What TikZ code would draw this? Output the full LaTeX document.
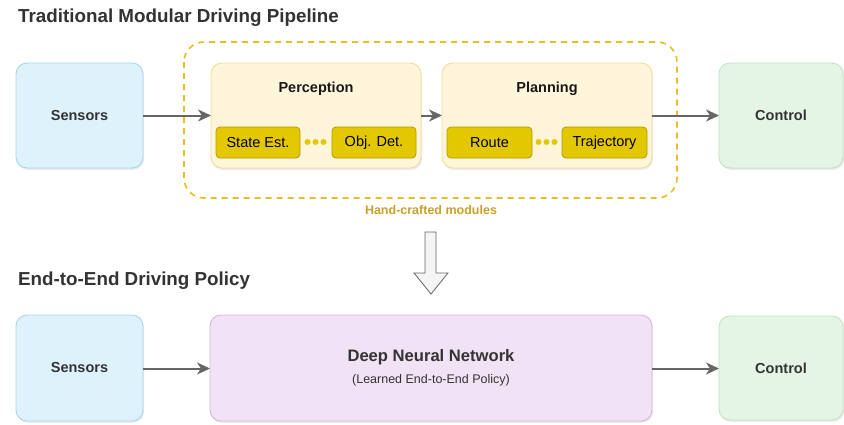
\documentclass[tikz,border=0pt]{standalone}
\usepackage{fontspec}
\setmainfont{Liberation Sans}
\usetikzlibrary{arrows.meta,shadows}

\definecolor{sensfill}{HTML}{DEF2FB}
\definecolor{sensdraw}{HTML}{A9D6EA}
\definecolor{ctrlfill}{HTML}{E5F5E5}
\definecolor{ctrldraw}{HTML}{C3E2C3}
\definecolor{modfill}{HTML}{FFF5DA}
\definecolor{moddraw}{HTML}{F2DC98}
\definecolor{subfill}{HTML}{E3C800}
\definecolor{subdraw}{HTML}{B59B00}
\definecolor{groupdraw}{HTML}{E8BE22}
\definecolor{grouptext}{HTML}{C9A02A}
\definecolor{dnnfill}{HTML}{F2E2F5}
\definecolor{dnndraw}{HTML}{D9B6DE}
\definecolor{linkgray}{HTML}{666666}
\definecolor{textdark}{HTML}{333333}
\definecolor{bigarrowfill}{HTML}{F5F5F5}

\tikzset{
  box/.style={draw, rounded corners=11pt, line width=0.9pt, inner sep=0pt,
    drop shadow={shadow xshift=1pt, shadow yshift=-1.8pt, opacity=0.16}},
  sensbox/.style={box, fill=sensfill, draw=sensdraw},
  ctrlbox/.style={box, fill=ctrlfill, draw=ctrldraw},
  modbox/.style={box, fill=modfill, draw=moddraw},
  dnnbox/.style={box, fill=dnnfill, draw=dnndraw},
  subbox/.style={draw=subdraw, fill=subfill, rounded corners=4pt, line width=0.8pt},
  boxlabel/.style={font=\fontsize{14.5}{17}\selectfont\bfseries, text=textdark},
  sublabel/.style={font=\fontsize{14.5}{17}\selectfont, text=black},
  heading/.style={font=\fontsize{18.8}{22}\selectfont\bfseries, text=textdark, anchor=base west, inner sep=0pt},
  link/.style={color=linkgray, line width=2pt, -{Stealth[length=13pt,width=12pt,inset=4pt]}},
  dot/.style={circle, fill=subfill, draw=none, minimum size=6pt, inner sep=0pt},
}

\begin{document}
\begin{tikzpicture}[x=1pt, y=-1pt]
\useasboundingbox[fill=white] (0,0) rectangle (844,424);

% headings
\node[heading] (h1) at (18,22) {Traditional Modular Driving Pipeline};
\node[heading] (h2) at (18,285) {End-to-End Driving Policy};

% group of hand-crafted modules
\draw[groupdraw, line width=1.6pt, dash pattern=on 6pt off 5pt, rounded corners=20pt]
  (184,42) rectangle (677,198);
\node[font=\fontsize{12.5}{15}\selectfont\bfseries, text=grouptext] (grp) at (431,210) {Hand-crafted modules};

% top row
\path[sensbox] (16,63) rectangle (143,168);
\node[boxlabel] (s1) at (79.5,115.5) {Sensors};
\coordinate (s1e) at (143,115.5);

\path[modbox] (211,63) rectangle (421,168);
\node[font=\fontsize{14.5}{17}\selectfont\bfseries, text=black!90] (per) at (316,89) {Perception};
\coordinate (perw) at (211,115.5);
\coordinate (pere) at (421,115.5);

\path[modbox] (442,63) rectangle (652,168);
\node[font=\fontsize{14.5}{17}\selectfont\bfseries, text=black!90] (pla) at (547,89) {Planning};
\coordinate (plaw) at (442,115.5);
\coordinate (plae) at (652,115.5);

\path[ctrlbox] (719,63) rectangle (843,168);
\node[boxlabel] (c1) at (781,115.5) {Control};
\coordinate (c1w) at (719,115.5);

% sub-modules
\draw[subbox] (216,127) rectangle (300,158);
\node[sublabel] (se) at (258,142.5) {State Est.};
\draw[subbox] (332,127) rectangle (416,158);
\node[sublabel] (od) at (374,142.5) {Obj. Det.};
\draw[subbox] (447,127) rectangle (532,158);
\node[sublabel] (ro) at (489.5,142.5) {Route};
\draw[subbox] (562,127) rectangle (647,158);
\node[sublabel] (tr) at (604.5,142.5) {Trajectory};

\foreach \i/\x in {1/307.5,2/315.5,3/323.5} {
  \node[dot] (pd\i) at (\x,142) {};
  \node[dot] (qd\i) at (\x+231,142) {};
}

\draw[link] (s1e) -- (perw);
\draw[link] (pere) -- (plaw);
\draw[link] (plae) -- (c1w);

% transition arrow
\draw[linkgray, line width=0.8pt, fill=bigarrowfill, line join=miter]
  (425,232) -- (436,232) -- (436,273) -- (448,273) -- (431,294) -- (414,273) -- (425,273) -- cycle;

% bottom row
\path[sensbox] (16,315) rectangle (143,421);
\node[boxlabel] (s2) at (79.5,368) {Sensors};
\coordinate (s2e) at (143,368.5);

\path[dnnbox] (210,315) rectangle (652,421);
\node[font=\fontsize{16.6}{20}\selectfont\bfseries, text=textdark] (dnn) at (431,357) {Deep Neural Network};
\node[font=\fontsize{12.5}{15}\selectfont, text=textdark] (dnnsub) at (431,380) {(Learned End-to-End Policy)};
\coordinate (dnnw) at (210,368.5);
\coordinate (dnne) at (652,368.5);

\path[ctrlbox] (719,316) rectangle (843,420);
\node[boxlabel] (c2) at (781,368) {Control};
\coordinate (c2w) at (719,368.5);

\draw[link] (s2e) -- (dnnw);
\draw[link] (dnne) -- (c2w);
\end{tikzpicture}
\end{document}
